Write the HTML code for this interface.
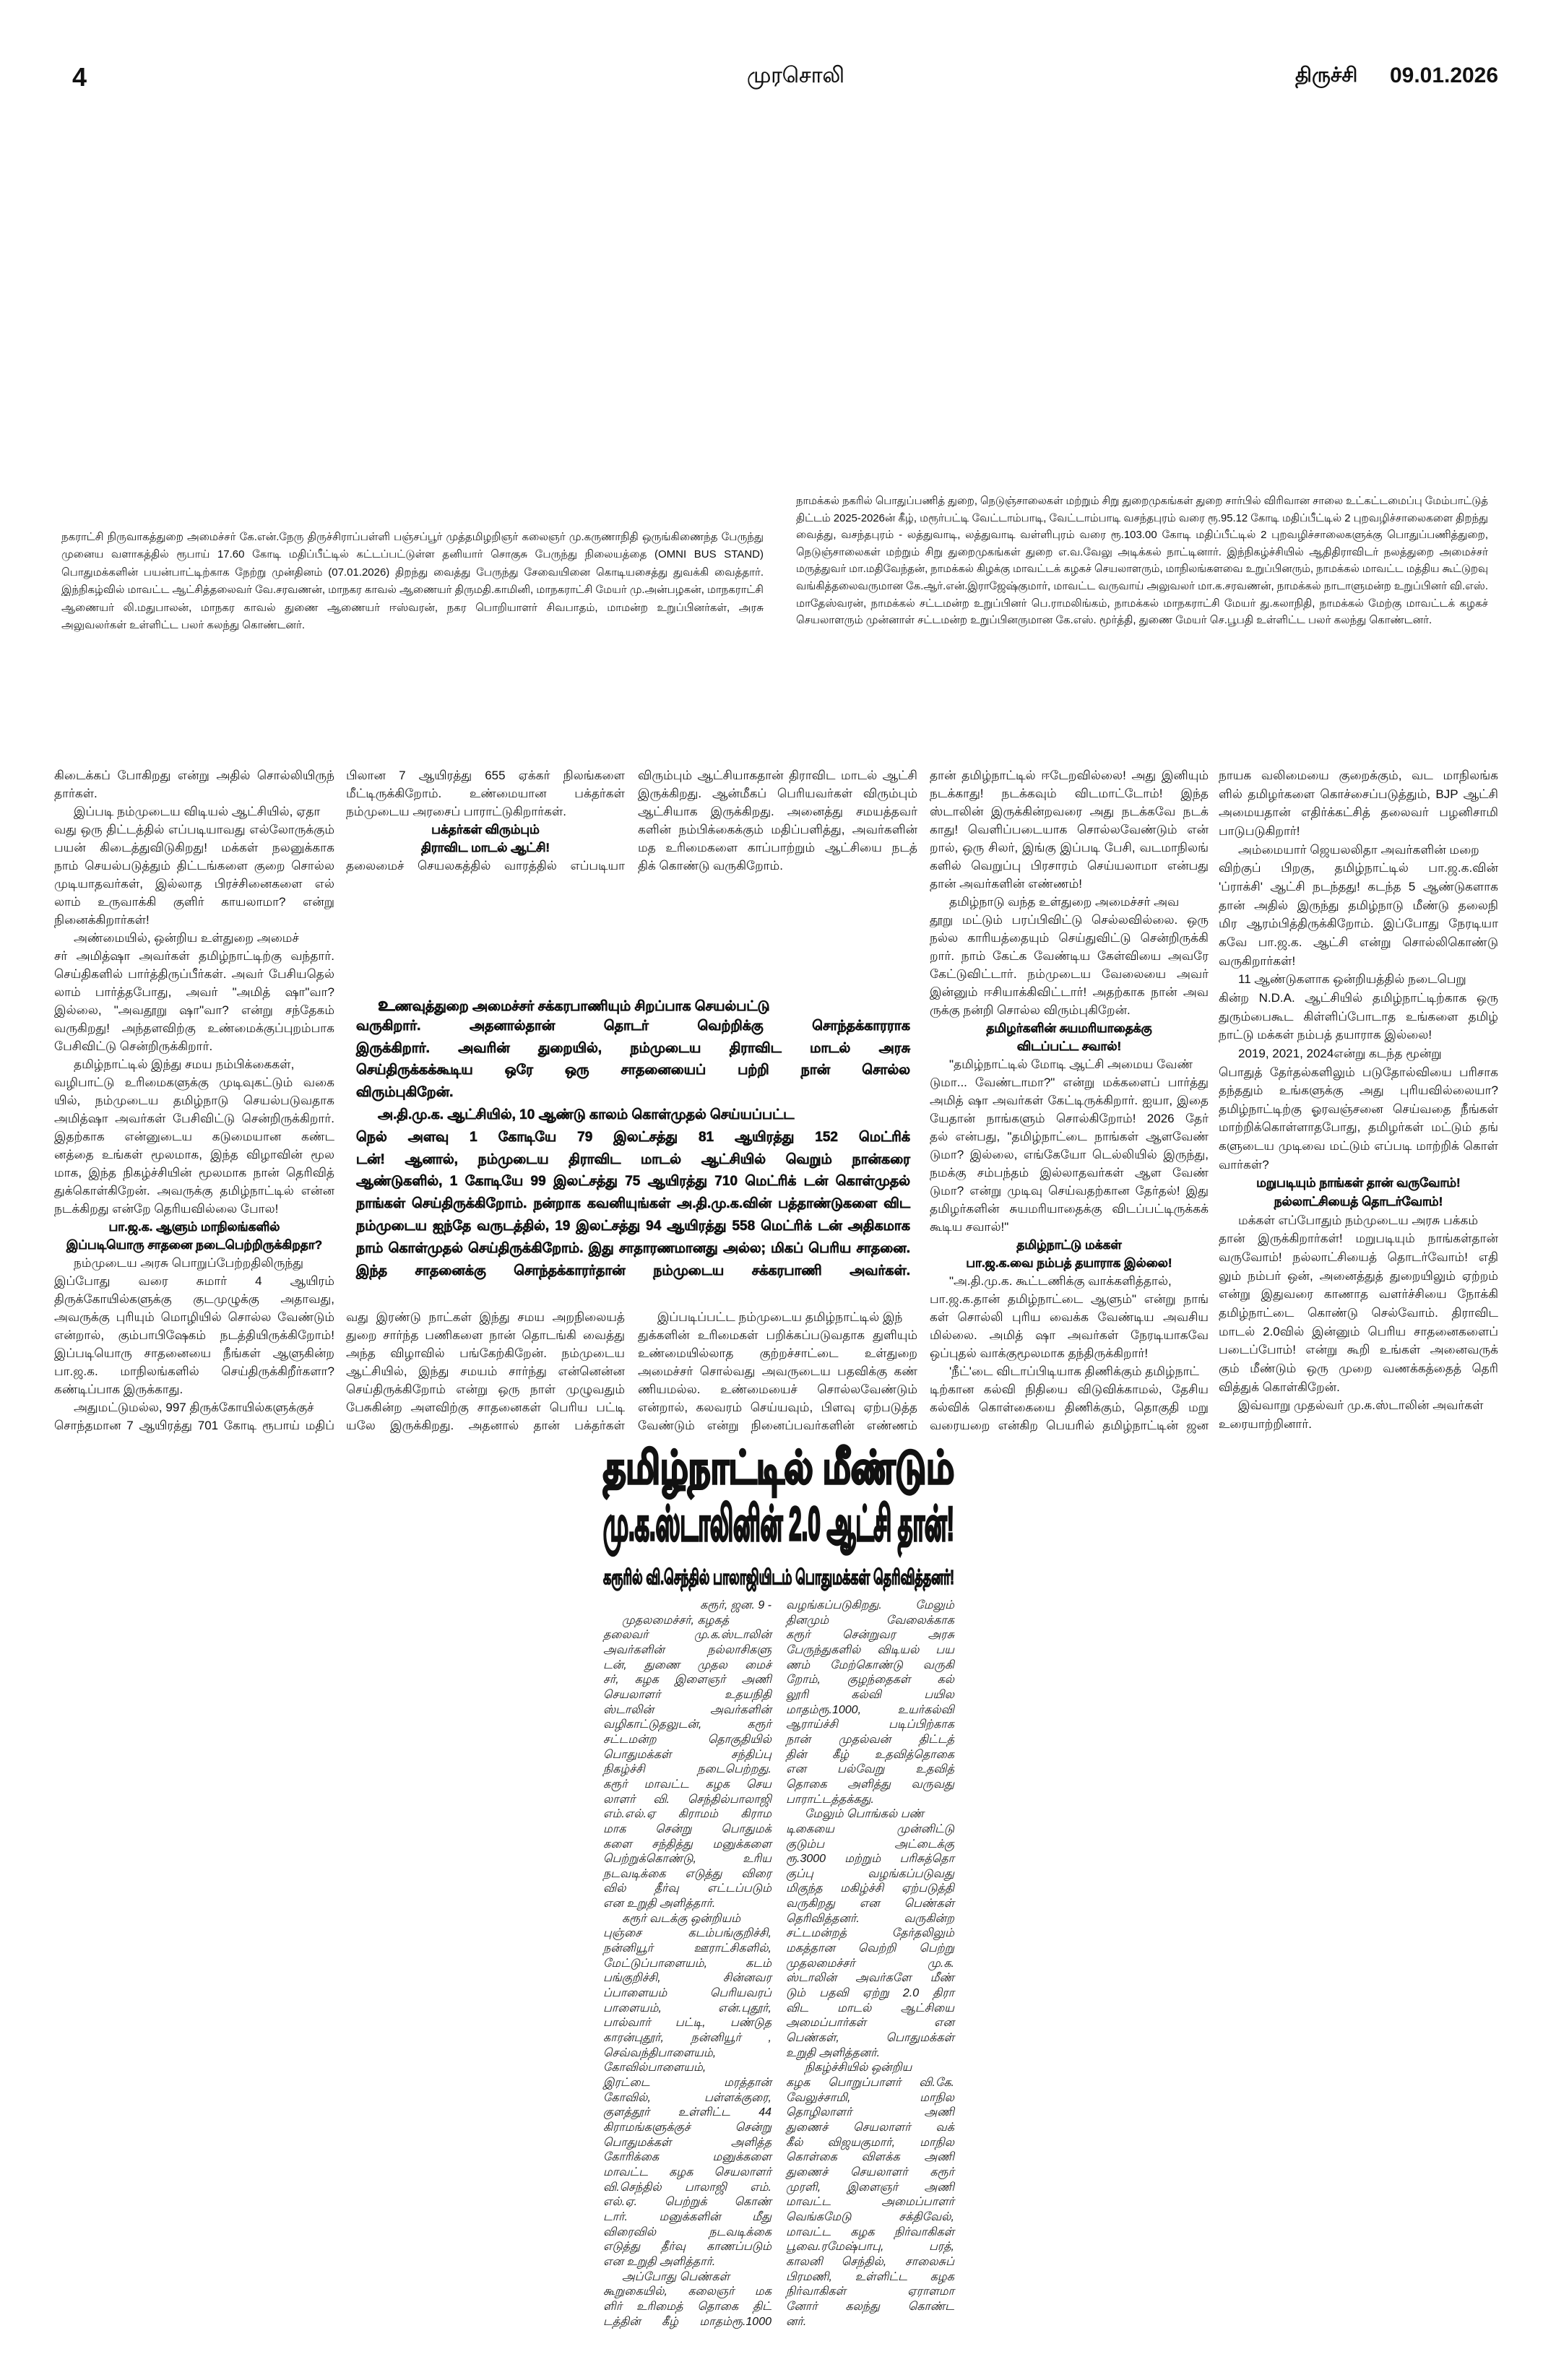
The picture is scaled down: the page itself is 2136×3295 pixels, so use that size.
<!DOCTYPE html>
<html><head><meta charset="utf-8">
<style>
html,body{margin:0;padding:0;background:#fff;}
body{width:2136px;height:3295px;position:relative;overflow:hidden;color:#111;font-family:"Liberation Sans","Noto Sans CJK SC",sans-serif;}
.b{position:absolute;}
.l{white-space:nowrap;overflow:visible;text-align:justify;text-align-last:justify;}
.s{text-align-last:left;text-align:left;}
.i{padding-left:1.6em;}
.c{text-align:center;text-align-last:center;font-weight:bold;-webkit-text-stroke:0.5px #111;}
.r{text-align:right;text-align-last:right;}
.body{font-size:17px;}
.body .l{height:25px;line-height:25px;}
.c5 .l{height:25.66px;line-height:25.66px;}
.pq{font-size:19px;font-weight:bold;-webkit-text-stroke:0.6px #111;}
.pq .l{height:30.8px;line-height:30.8px;}
.bt{font-size:16px;font-style:italic;}
.bt .l{height:20.67px;line-height:20.67px;}
.cap{font-size:15px;}
.capL .l{height:24.4px;line-height:24.4px;}
.capR .l{height:23.6px;line-height:23.6px;}
.big{font-weight:bold;display:inline-block;white-space:nowrap;transform-origin:left top;}
</style></head><body>

<div class="b" style="left:100px;top:86px;font-size:36px;font-weight:bold;">4</div>
<div class="b" style="left:1034px;top:88px;font-size:30px;width:157px;-webkit-text-stroke:0.5px #111;"><div class="l">முரசொலி</div></div>
<div class="b" style="left:1793px;top:88px;font-size:28px;font-weight:bold;">திருச்சி</div>
<div class="b" style="left:1924px;top:88px;font-size:30px;font-weight:bold;width:150px;"><div class="l">09.01.2026</div></div>

<div class="b cap capR" style="left:1102px;top:682px;width:958px;">
<div class="l">நாமக்கல் நகரில் பொதுப்பணித் துறை, நெடுஞ்சாலைகள் மற்றும் சிறு துறைமுகங்கள் துறை சார்பில் விரிவான சாலை உட்கட்டமைப்பு மேம்பாட்டுத்</div>
<div class="l">திட்டம் 2025-2026ன் கீழ், மரூர்பட்டி வேட்டாம்பாடி, வேட்டாம்பாடி வசந்தபுரம் வரை ரூ.95.12 கோடி மதிப்பீட்டில் 2 புறவழிச்சாலைகளை திறந்து</div>
<div class="l">வைத்து, வசந்தபுரம் - லத்துவாடி, லத்துவாடி வள்ளிபுரம் வரை ரூ.103.00 கோடி மதிப்பீட்டில் 2 புறவழிச்சாலைகளுக்கு பொதுப்பணித்துறை,</div>
<div class="l">நெடுஞ்சாலைகள் மற்றும் சிறு துறைமுகங்கள் துறை எ.வ.வேலு அடிக்கல் நாட்டினார். இந்நிகழ்ச்சியில் ஆதிதிராவிடர் நலத்துறை அமைச்சர்</div>
<div class="l">மருத்துவர் மா.மதிவேந்தன், நாமக்கல் கிழக்கு மாவட்டக் கழகச் செயலாளரும், மாநிலங்களவை உறுப்பினரும், நாமக்கல் மாவட்ட மத்திய கூட்டுறவு</div>
<div class="l">வங்கித்தலைவருமான கே.ஆர்.என்.இராஜேஷ்குமார், மாவட்ட வருவாய் அலுவலர் மா.க.சரவணன், நாமக்கல் நாடாளுமன்ற உறுப்பினர் வி.எஸ்.</div>
<div class="l">மாதேஸ்வரன், நாமக்கல் சட்டமன்ற உறுப்பினர் பெ.ராமலிங்கம், நாமக்கல் மாநகராட்சி மேயர் து.கலாநிதி, நாமக்கல் மேற்கு மாவட்டக் கழகச்</div>
<div class="l s">செயலாளரும் முன்னாள் சட்டமன்ற உறுப்பினருமான கே.எஸ். மூர்த்தி, துணை மேயர் செ.பூபதி உள்ளிட்ட பலர் கலந்து கொண்டனர்.</div>
</div>

<div class="b cap capL" style="left:85px;top:732px;width:972px;">
<div class="l">நகராட்சி நிருவாகத்துறை அமைச்சர் கே.என்.நேரு திருச்சிராப்பள்ளி பஞ்சப்பூர் முத்தமிழறிஞர் கலைஞர் மு.கருணாநிதி ஒருங்கிணைந்த பேருந்து</div>
<div class="l">முனைய வளாகத்தில் ரூபாய் 17.60 கோடி மதிப்பீட்டில் கட்டப்பட்டுள்ள தனியார் சொகுசு பேருந்து நிலையத்தை (OMNI BUS STAND)</div>
<div class="l">பொதுமக்களின் பயன்பாட்டிற்காக நேற்று முன்தினம் (07.01.2026) திறந்து வைத்து பேருந்து சேவையினை கொடியசைத்து துவக்கி வைத்தார்.</div>
<div class="l">இந்நிகழ்வில் மாவட்ட ஆட்சித்தலைவர் வே.சரவணன், மாநகர காவல் ஆணையர் திருமதி.காமினி, மாநகராட்சி மேயர் மு.அன்பழகன், மாநகராட்சி</div>
<div class="l">ஆணையர் லி.மதுபாலன், மாநகர காவல் துணை ஆணையர் ஈஸ்வரன், நகர பொறியாளர் சிவபாதம், மாமன்ற உறுப்பினர்கள், அரசு</div>
<div class="l s">அலுவலர்கள் உள்ளிட்ட பலர் கலந்து கொண்டனர்.</div>
</div>

<!-- column 1 -->
<div class="b body" style="left:75px;top:1061px;width:388px;">
<div class="l">கிடைக்கப் போகிறது என்று அதில் சொல்லியிருந்</div>
<div class="l s">தார்கள்.</div>
<div class="l i">இப்படி நம்முடைய விடியல் ஆட்சியில், ஏதா</div>
<div class="l">வது ஒரு திட்டத்தில் எப்படியாவது எல்லோருக்கும்</div>
<div class="l">பயன் கிடைத்துவிடுகிறது! மக்கள் நலனுக்காக</div>
<div class="l">நாம் செயல்படுத்தும் திட்டங்களை குறை சொல்ல</div>
<div class="l">முடியாதவர்கள், இல்லாத பிரச்சினைகளை எல்</div>
<div class="l">லாம் உருவாக்கி குளிர் காயலாமா? என்று</div>
<div class="l s">நினைக்கிறார்கள்!</div>
<div class="l i">அண்மையில், ஒன்றிய உள்துறை அமைச்</div>
<div class="l">சர் அமித்ஷா அவர்கள் தமிழ்நாட்டிற்கு வந்தார்.</div>
<div class="l">செய்திகளில் பார்த்திருப்பீர்கள். அவர் பேசியதெல்</div>
<div class="l">லாம் பார்த்தபோது, அவர் "அமித் ஷா"வா?</div>
<div class="l">இல்லை, "அவதூறு ஷா"வா? என்று சந்தேகம்</div>
<div class="l">வருகிறது! அந்தளவிற்கு உண்மைக்குப்புறம்பாக</div>
<div class="l s">பேசிவிட்டு சென்றிருக்கிறார்.</div>
<div class="l i">தமிழ்நாட்டில் இந்து சமய நம்பிக்கைகள்,</div>
<div class="l">வழிபாட்டு உரிமைகளுக்கு முடிவுகட்டும் வகை</div>
<div class="l">யில், நம்முடைய தமிழ்நாடு செயல்படுவதாக</div>
<div class="l">அமித்ஷா அவர்கள் பேசிவிட்டு சென்றிருக்கிறார்.</div>
<div class="l">இதற்காக என்னுடைய கடுமையான கண்ட</div>
<div class="l">னத்தை உங்கள் மூலமாக, இந்த விழாவின் மூல</div>
<div class="l">மாக, இந்த நிகழ்ச்சியின் மூலமாக நான் தெரிவித்</div>
<div class="l">துக்கொள்கிறேன். அவருக்கு தமிழ்நாட்டில் என்ன</div>
<div class="l s">நடக்கிறது என்றே தெரியவில்லை போல!</div>
<div class="l c">பா.ஜ.க. ஆளும் மாநிலங்களில்</div>
<div class="l c">இப்படியொரு சாதனை நடைபெற்றிருக்கிறதா?</div>
<div class="l i">நம்முடைய அரசு பொறுப்பேற்றதிலிருந்து</div>
<div class="l">இப்போது வரை சுமார் 4 ஆயிரம்</div>
<div class="l">திருக்கோயில்களுக்கு குடமுழுக்கு அதாவது,</div>
<div class="l">அவருக்கு புரியும் மொழியில் சொல்ல வேண்டும்</div>
<div class="l">என்றால், கும்பாபிஷேகம் நடத்தியிருக்கிறோம்!</div>
<div class="l">இப்படியொரு சாதனையை நீங்கள் ஆளுகின்ற</div>
<div class="l">பா.ஜ.க. மாநிலங்களில் செய்திருக்கிறீர்களா?</div>
<div class="l s">கண்டிப்பாக இருக்காது.</div>
<div class="l i">அதுமட்டுமல்ல, 997 திருக்கோயில்களுக்குச்</div>
<div class="l">சொந்தமான 7 ஆயிரத்து 701 கோடி ரூபாய் மதிப்</div>
</div>

<!-- column 2 -->
<div class="b body" style="left:479px;top:1061px;width:386px;">
<div class="l">பிலான 7 ஆயிரத்து 655 ஏக்கர் நிலங்களை</div>
<div class="l">மீட்டிருக்கிறோம். உண்மையான பக்தர்கள்</div>
<div class="l s">நம்முடைய அரசைப் பாராட்டுகிறார்கள்.</div>
<div class="l c">பக்தர்கள் விரும்பும்</div>
<div class="l c">திராவிட மாடல் ஆட்சி!</div>
<div class="l">தலைமைச் செயலகத்தில் வாரத்தில் எப்படியா</div>
</div>
<div class="b body" style="left:479px;top:1811px;width:386px;">
<div class="l">வது இரண்டு நாட்கள் இந்து சமய அறநிலையத்</div>
<div class="l">துறை சார்ந்த பணிகளை நான் தொடங்கி வைத்து</div>
<div class="l">அந்த விழாவில் பங்கேற்கிறேன். நம்முடைய</div>
<div class="l">ஆட்சியில், இந்து சமயம் சார்ந்து என்னென்ன</div>
<div class="l">செய்திருக்கிறோம் என்று ஒரு நாள் முழுவதும்</div>
<div class="l">பேசுகின்ற அளவிற்கு சாதனைகள் பெரிய பட்டி</div>
<div class="l">யலே இருக்கிறது. அதனால் தான் பக்தர்கள்</div>
</div>

<!-- column 3 -->
<div class="b body" style="left:883px;top:1061px;width:387px;">
<div class="l">விரும்பும் ஆட்சியாகதான் திராவிட மாடல் ஆட்சி</div>
<div class="l">இருக்கிறது. ஆன்மீகப் பெரியவர்கள் விரும்பும்</div>
<div class="l">ஆட்சியாக இருக்கிறது. அனைத்து சமயத்தவர்</div>
<div class="l">களின் நம்பிக்கைக்கும் மதிப்பளித்து, அவர்களின்</div>
<div class="l">மத உரிமைகளை காப்பாற்றும் ஆட்சியை நடத்</div>
<div class="l s">திக் கொண்டு வருகிறோம்.</div>
</div>
<div class="b body" style="left:883px;top:1811px;width:387px;">
<div class="l i">இப்படிப்பட்ட நம்முடைய தமிழ்நாட்டில் இந்</div>
<div class="l">துக்களின் உரிமைகள் பறிக்கப்படுவதாக துளியும்</div>
<div class="l">உண்மையில்லாத குற்றச்சாட்டை உள்துறை</div>
<div class="l">அமைச்சர் சொல்வது அவருடைய பதவிக்கு கண்</div>
<div class="l">ணியமல்ல. உண்மையைச் சொல்லவேண்டும்</div>
<div class="l">என்றால், கலவரம் செய்யவும், பிளவு ஏற்படுத்த</div>
<div class="l">வேண்டும் என்று நினைப்பவர்களின் எண்ணம்</div>
</div>

<!-- pull quote -->
<div class="b pq" style="left:493px;top:1375px;width:767px;">
<div class="l i"><span style="font-size:26px">உ</span>ணவுத்துறை அமைச்சர் சக்கரபாணியும் சிறப்பாக செயல்பட்டு</div>
<div class="l">வருகிறார். அதனால்தான் தொடர் வெற்றிக்கு சொந்தக்காரராக</div>
<div class="l">இருக்கிறார். அவரின் துறையில், நம்முடைய திராவிட மாடல் அரசு</div>
<div class="l">செய்திருக்கக்கூடிய ஒரே ஒரு சாதனையைப் பற்றி நான் சொல்ல</div>
<div class="l s">விரும்புகிறேன்.</div>
<div class="l i">அ.தி.மு.க. ஆட்சியில், 10 ஆண்டு காலம் கொள்முதல் செய்யப்பட்ட</div>
<div class="l">நெல் அளவு 1 கோடியே 79 இலட்சத்து 81 ஆயிரத்து 152 மெட்ரிக்</div>
<div class="l">டன்! ஆனால், நம்முடைய திராவிட மாடல் ஆட்சியில் வெறும் நான்கரை</div>
<div class="l">ஆண்டுகளில், 1 கோடியே 99 இலட்சத்து 75 ஆயிரத்து 710 மெட்ரிக் டன் கொள்முதல்</div>
<div class="l">நாங்கள் செய்திருக்கிறோம். நன்றாக கவனியுங்கள் அ.தி.மு.க.வின் பத்தாண்டுகளை விட</div>
<div class="l">நம்முடைய ஐந்தே வருடத்தில், 19 இலட்சத்து 94 ஆயிரத்து 558 மெட்ரிக் டன் அதிகமாக</div>
<div class="l">நாம் கொள்முதல் செய்திருக்கிறோம். இது சாதாரணமானது அல்ல; மிகப் பெரிய சாதனை.</div>
<div class="l">இந்த சாதனைக்கு சொந்தக்காரர்தான் நம்முடைய சக்கரபாணி அவர்கள்.</div>
</div>

<!-- column 4 -->
<div class="b body" style="left:1287px;top:1061px;width:386px;">
<div class="l">தான் தமிழ்நாட்டில் ஈடேறவில்லை! அது இனியும்</div>
<div class="l">நடக்காது! நடக்கவும் விடமாட்டோம்! இந்த</div>
<div class="l">ஸ்டாலின் இருக்கின்றவரை அது நடக்கவே நடக்</div>
<div class="l">காது! வெளிப்படையாக சொல்லவேண்டும் என்</div>
<div class="l">றால், ஒரு சிலர், இங்கு இப்படி பேசி, வடமாநிலங்</div>
<div class="l">களில் வெறுப்பு பிரசாரம் செய்யலாமா என்பது</div>
<div class="l s">தான் அவர்களின் எண்ணம்!</div>
<div class="l i">தமிழ்நாடு வந்த உள்துறை அமைச்சர் அவ</div>
<div class="l">தூறு மட்டும் பரப்பிவிட்டு செல்லவில்லை. ஒரு</div>
<div class="l">நல்ல காரியத்தையும் செய்துவிட்டு சென்றிருக்கி</div>
<div class="l">றார். நாம் கேட்க வேண்டிய கேள்வியை அவரே</div>
<div class="l">கேட்டுவிட்டார். நம்முடைய வேலையை அவர்</div>
<div class="l">இன்னும் ஈசியாக்கிவிட்டார்! அதற்காக நான் அவ</div>
<div class="l s">ருக்கு நன்றி சொல்ல விரும்புகிறேன்.</div>
<div class="l c">தமிழர்களின் சுயமரியாதைக்கு</div>
<div class="l c">விடப்பட்ட சவால்!</div>
<div class="l i">"தமிழ்நாட்டில் மோடி ஆட்சி அமைய வேண்</div>
<div class="l">டுமா... வேண்டாமா?" என்று மக்களைப் பார்த்து</div>
<div class="l">அமித் ஷா அவர்கள் கேட்டிருக்கிறார். ஐயா, இதை</div>
<div class="l">யேதான் நாங்களும் சொல்கிறோம்! 2026 தேர்</div>
<div class="l">தல் என்பது, "தமிழ்நாட்டை நாங்கள் ஆளவேண்</div>
<div class="l">டுமா? இல்லை, எங்கேயோ டெல்லியில் இருந்து,</div>
<div class="l">நமக்கு சம்பந்தம் இல்லாதவர்கள் ஆள வேண்</div>
<div class="l">டுமா? என்று முடிவு செய்வதற்கான தேர்தல்! இது</div>
<div class="l">தமிழர்களின் சுயமரியாதைக்கு விடப்பட்டிருக்கக்</div>
<div class="l s">கூடிய சவால்!"</div>
<div class="l c">தமிழ்நாட்டு மக்கள்</div>
<div class="l c">பா.ஜ.க.வை நம்பத் தயாராக இல்லை!</div>
<div class="l i">"அ.தி.மு.க. கூட்டணிக்கு வாக்களித்தால்,</div>
<div class="l">பா.ஜ.க.தான் தமிழ்நாட்டை ஆளும்" என்று நாங்</div>
<div class="l">கள் சொல்லி புரிய வைக்க வேண்டிய அவசிய</div>
<div class="l">மில்லை. அமித் ஷா அவர்கள் நேரடியாகவே</div>
<div class="l s">ஒப்புதல் வாக்குமூலமாக தந்திருக்கிறார்!</div>
<div class="l i">'நீட்'டை விடாப்பிடியாக திணிக்கும் தமிழ்நாட்</div>
<div class="l">டிற்கான கல்வி நிதியை விடுவிக்காமல், தேசிய</div>
<div class="l">கல்விக் கொள்கையை திணிக்கும், தொகுதி மறு</div>
<div class="l">வரையறை என்கிற பெயரில் தமிழ்நாட்டின் ஜன</div>
</div>

<!-- column 5 -->
<div class="b body c5" style="left:1687px;top:1061px;width:387px;">
<div class="l">நாயக வலிமையை குறைக்கும், வட மாநிலங்க</div>
<div class="l">ளில் தமிழர்களை கொச்சைப்படுத்தும், BJP ஆட்சி</div>
<div class="l">அமையதான் எதிர்க்கட்சித் தலைவர் பழனிசாமி</div>
<div class="l s">பாடுபடுகிறார்!</div>
<div class="l i">அம்மையார் ஜெயலலிதா அவர்களின் மறை</div>
<div class="l">விற்குப் பிறகு, தமிழ்நாட்டில் பா.ஜ.க.வின்</div>
<div class="l">'ப்ராக்சி' ஆட்சி நடந்தது! கடந்த 5 ஆண்டுகளாக</div>
<div class="l">தான் அதில் இருந்து தமிழ்நாடு மீண்டு தலைநி</div>
<div class="l">மிர ஆரம்பித்திருக்கிறோம். இப்போது நேரடியா</div>
<div class="l">கவே பா.ஜ.க. ஆட்சி என்று சொல்லிகொண்டு</div>
<div class="l s">வருகிறார்கள்!</div>
<div class="l i">11 ஆண்டுகளாக ஒன்றியத்தில் நடைபெறு</div>
<div class="l">கின்ற N.D.A. ஆட்சியில் தமிழ்நாட்டிற்காக ஒரு</div>
<div class="l">துரும்பைகூட கிள்ளிப்போடாத உங்களை தமிழ்</div>
<div class="l s">நாட்டு மக்கள் நம்பத் தயாராக இல்லை!</div>
<div class="l i">2019, 2021, 2024என்று கடந்த மூன்று</div>
<div class="l">பொதுத் தேர்தல்களிலும் படுதோல்வியை பரிசாக</div>
<div class="l">தந்ததும் உங்களுக்கு அது புரியவில்லையா?</div>
<div class="l">தமிழ்நாட்டிற்கு ஓரவஞ்சனை செய்வதை நீங்கள்</div>
<div class="l">மாற்றிக்கொள்ளாதபோது, தமிழர்கள் மட்டும் தங்</div>
<div class="l">களுடைய முடிவை மட்டும் எப்படி மாற்றிக் கொள்</div>
<div class="l s">வார்கள்?</div>
<div class="l c">மறுபடியும் நாங்கள் தான் வருவோம்!</div>
<div class="l c">நல்லாட்சியைத் தொடர்வோம்!</div>
<div class="l i">மக்கள் எப்போதும் நம்முடைய அரசு பக்கம்</div>
<div class="l">தான் இருக்கிறார்கள்! மறுபடியும் நாங்கள்தான்</div>
<div class="l">வருவோம்! நல்லாட்சியைத் தொடர்வோம்! எதி</div>
<div class="l">லும் நம்பர் ஒன், அனைத்துத் துறையிலும் ஏற்றம்</div>
<div class="l">என்று இதுவரை காணாத வளர்ச்சியை நோக்கி</div>
<div class="l">தமிழ்நாட்டை கொண்டு செல்வோம். திராவிட</div>
<div class="l">மாடல் 2.0வில் இன்னும் பெரிய சாதனைகளைப்</div>
<div class="l">படைப்போம்! என்று கூறி உங்கள் அனைவருக்</div>
<div class="l">கும் மீண்டும் ஒரு முறை வணக்கத்தைத் தெரி</div>
<div class="l s">வித்துக் கொள்கிறேன்.</div>
<div class="l i">இவ்வாறு முதல்வர் மு.க.ஸ்டாலின் அவர்கள்</div>
<div class="l s">உரையாற்றினார்.</div>
</div>

<!-- headline -->
<div class="b" style="left:835px;top:1998px;width:486px;height:70px;overflow:visible;"><span class="big fit" style="font-size:62px;line-height:70px;-webkit-text-stroke:3.5px #111;">தமிழ்நாட்டில் மீண்டும்</span></div>
<div class="b" style="left:835px;top:2070px;width:486px;height:78px;overflow:visible;"><span class="big fit" style="font-size:66px;line-height:78px;-webkit-text-stroke:3.5px #111;">மு.க.ஸ்டாலினின் 2.0 ஆட்சி தான்!</span></div>
<div class="b" style="left:835px;top:2166px;width:486px;height:36px;overflow:visible;"><span class="big fit" style="font-size:28px;line-height:36px;-webkit-text-stroke:1.5px #111;">கரூரில் வி.செந்தில் பாலாஜியிடம் பொதுமக்கள் தெரிவித்தனர்!</span></div>

<!-- bottom article col A -->
<div class="b bt" style="left:835px;top:2213px;width:233px;">
<div class="l r">கரூர், ஜன. 9 -</div>
<div class="l i">முதலமைச்சர், கழகத்</div>
<div class="l">தலைவர் மு.க.ஸ்டாலின்</div>
<div class="l">அவர்களின் நல்லாசிகளு</div>
<div class="l">டன், துணை முதல மைச்</div>
<div class="l">சர், கழக இளைஞர் அணி</div>
<div class="l">செயலாளர் உதயநிதி</div>
<div class="l">ஸ்டாலின் அவர்களின்</div>
<div class="l">வழிகாட்டுதலுடன், கரூர்</div>
<div class="l">சட்டமன்ற தொகுதியில்</div>
<div class="l">பொதுமக்கள் சந்திப்பு</div>
<div class="l">நிகழ்ச்சி நடைபெற்றது.</div>
<div class="l">கரூர் மாவட்ட கழக செய</div>
<div class="l">லாளர் வி. செந்தில்பாலாஜி</div>
<div class="l">எம்.எல்.ஏ கிராமம் கிராம</div>
<div class="l">மாக சென்று பொதுமக்</div>
<div class="l">களை சந்தித்து மனுக்களை</div>
<div class="l">பெற்றுக்கொண்டு, உரிய</div>
<div class="l">நடவடிக்கை எடுத்து விரை</div>
<div class="l">வில் தீர்வு எட்டப்படும்</div>
<div class="l s">என உறுதி அளித்தார்.</div>
<div class="l i">கரூர் வடக்கு ஒன்றியம்</div>
<div class="l">புஞ்சை கடம்பங்குறிச்சி,</div>
<div class="l">நன்னியூர் ஊராட்சிகளில்,</div>
<div class="l">மேட்டுப்பாளையம், கடம்</div>
<div class="l">பங்குறிச்சி, சின்னவர</div>
<div class="l">ப்பாளையம் பெரியவரப்</div>
<div class="l">பாளையம், என்.புதூர்,</div>
<div class="l">பால்வார் பட்டி, பண்டுத</div>
<div class="l">காரன்புதூர், நன்னியூர் ,</div>
<div class="l">செவ்வந்திபாளையம்,</div>
<div class="l">கோவில்பாளையம்,</div>
<div class="l">இரட்டை மரத்தான்</div>
<div class="l">கோவில், பள்ளக்குரை,</div>
<div class="l">குளத்தூர் உள்ளிட்ட 44</div>
<div class="l">கிராமங்களுக்குச் சென்று</div>
<div class="l">பொதுமக்கள் அளித்த</div>
<div class="l">கோரிக்கை மனுக்களை</div>
<div class="l">மாவட்ட கழக செயலாளர்</div>
<div class="l">வி.செந்தில் பாலாஜி எம்.</div>
<div class="l">எல்.ஏ. பெற்றுக் கொண்</div>
<div class="l">டார். மனுக்களின் மீது</div>
<div class="l">விரைவில் நடவடிக்கை</div>
<div class="l">எடுத்து தீர்வு காணப்படும்</div>
<div class="l s">என உறுதி அளித்தார்.</div>
<div class="l i">அப்போது பெண்கள்</div>
<div class="l">கூறுகையில், கலைஞர் மக</div>
<div class="l">ளிர் உரிமைத் தொகை திட்</div>
<div class="l">டத்தின் கீழ் மாதம்ரூ.1000</div>
</div>

<!-- bottom article col B -->
<div class="b bt" style="left:1088px;top:2213px;width:233px;">
<div class="l">வழங்கப்படுகிறது. மேலும்</div>
<div class="l">தினமும் வேலைக்காக</div>
<div class="l">கரூர் சென்றுவர அரசு</div>
<div class="l">பேருந்துகளில் விடியல் பய</div>
<div class="l">ணம் மேற்கொண்டு வருகி</div>
<div class="l">றோம், குழந்தைகள் கல்</div>
<div class="l">லூரி கல்வி பயில</div>
<div class="l">மாதம்ரூ.1000, உயர்கல்வி</div>
<div class="l">ஆராய்ச்சி படிப்பிற்காக</div>
<div class="l">நான் முதல்வன் திட்டத்</div>
<div class="l">தின் கீழ் உதவித்தொகை</div>
<div class="l">என பல்வேறு உதவித்</div>
<div class="l">தொகை அளித்து வருவது</div>
<div class="l s">பாராட்டத்தக்கது.</div>
<div class="l i">மேலும் பொங்கல் பண்</div>
<div class="l">டிகையை முன்னிட்டு</div>
<div class="l">குடும்ப அட்டைக்கு</div>
<div class="l">ரூ.3000 மற்றும் பரிசுத்தொ</div>
<div class="l">குப்பு வழங்கப்படுவது</div>
<div class="l">மிகுந்த மகிழ்ச்சி ஏற்படுத்தி</div>
<div class="l">வருகிறது என பெண்கள்</div>
<div class="l">தெரிவித்தனர். வருகின்ற</div>
<div class="l">சட்டமன்றத் தேர்தலிலும்</div>
<div class="l">மகத்தான வெற்றி பெற்று</div>
<div class="l">முதலமைச்சர் மு.க.</div>
<div class="l">ஸ்டாலின் அவர்களே மீண்</div>
<div class="l">டும் பதவி ஏற்று 2.0 திரா</div>
<div class="l">விட மாடல் ஆட்சியை</div>
<div class="l">அமைப்பார்கள் என</div>
<div class="l">பெண்கள், பொதுமக்கள்</div>
<div class="l s">உறுதி அளித்தனர்.</div>
<div class="l i">நிகழ்ச்சியில் ஒன்றிய</div>
<div class="l">கழக பொறுப்பாளர் வி.கே.</div>
<div class="l">வேலுச்சாமி, மாநில</div>
<div class="l">தொழிலாளர் அணி</div>
<div class="l">துணைச் செயலாளர் வக்</div>
<div class="l">கீல் விஜயகுமார், மாநில</div>
<div class="l">கொள்கை விளக்க அணி</div>
<div class="l">துணைச் செயலாளர் கரூர்</div>
<div class="l">முரளி, இளைஞர் அணி</div>
<div class="l">மாவட்ட அமைப்பாளர்</div>
<div class="l">வெங்கமேடு சக்திவேல்,</div>
<div class="l">மாவட்ட கழக நிர்வாகிகள்</div>
<div class="l">பூவை.ரமேஷ்பாபு, பரத்,</div>
<div class="l">காலனி செந்தில், சாலைசுப்</div>
<div class="l">பிரமணி, உள்ளிட்ட கழக</div>
<div class="l">நிர்வாகிகள் ஏராளமா</div>
<div class="l">னோர் கலந்து கொண்ட</div>
<div class="l s">னர்.</div>
</div>

<script>
(function(){
  var ls=document.querySelectorAll('.l');
  for(var k=0;k<ls.length;k++){
    var d=ls[k];
    var sp=document.createElement('span');
    while(d.firstChild) sp.appendChild(d.firstChild);
    d.appendChild(sp);
    var cs=getComputedStyle(d);
    var avail=d.clientWidth-parseFloat(cs.paddingLeft)-parseFloat(cs.paddingRight);
    var w=sp.getBoundingClientRect().width;
    if(w>avail && w>0){
      sp.style.display='inline-block';
      sp.style.transformOrigin='left center';
      sp.style.transform='scaleX('+(avail/w)+')';
      d.style.textAlign='left';d.style.textAlignLast='left';
      if(d.classList.contains('r')){sp.style.transformOrigin='right center';d.style.textAlign='right';d.style.textAlignLast='right';}
      if(d.classList.contains('c')){sp.style.transformOrigin='center center';d.style.textAlign='center';d.style.textAlignLast='center';}
    }
  }
  var f=document.querySelectorAll('.fit');
  for(var j=0;j<f.length;j++){
    var s=f[j],pw=s.parentNode.clientWidth,sw=s.getBoundingClientRect().width;
    if(sw>0) s.style.transform='scaleX('+(pw/sw)+')';
  }
})();
</script>
</body></html>
